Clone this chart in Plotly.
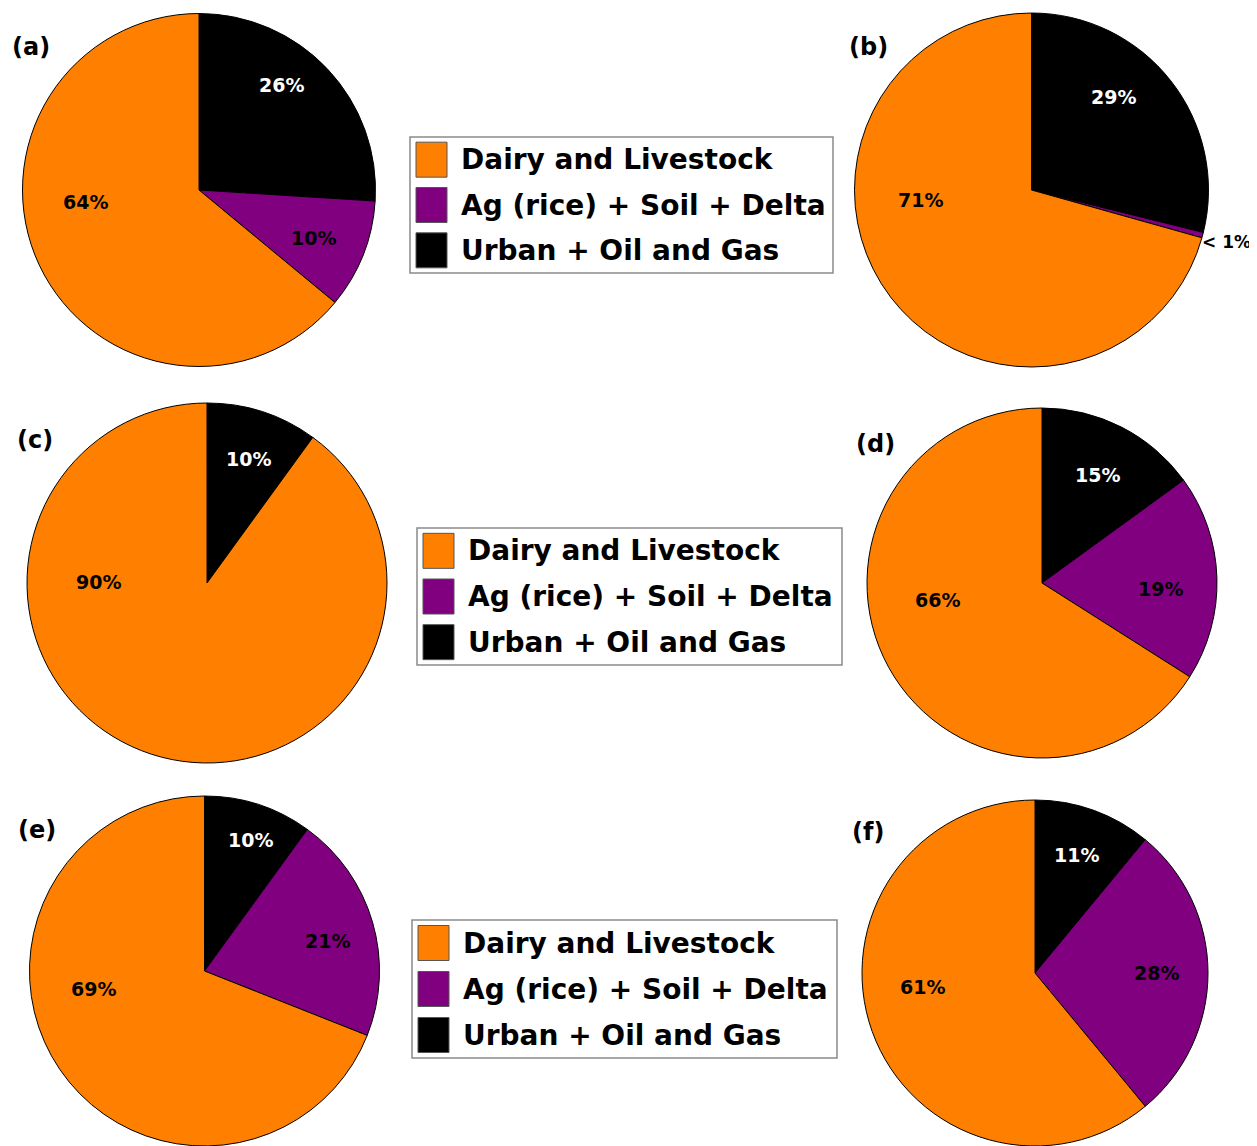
import plotly.graph_objects as go

# Screenshot window size; the page body adds an 8px margin, so the figure is drawn smaller
WIN_W, WIN_H = 1257, 1146
OFF = 8
W, H = WIN_W - OFF, WIN_H - OFF

categories = ["Urban + Oil and Gas", "Ag (rice) + Soil + Delta", "Dairy and Livestock"]
colors = ["#000000", "#800080", "#FF8000"]
legend_order = ["Dairy and Livestock", "Ag (rice) + Soil + Delta", "Urban + Oil and Gas"]

panel_names = ["(a)", "(b)", "(c)", "(d)", "(e)", "(f)"]
values_a = [26, 10, 64]
values_b = [29, 0.5, 71]
values_c = [10, 0, 90]
values_d = [15, 19, 66]
values_e = [10, 21, 69]
values_f = [11, 28, 61]
labels_a = ["26%", "10%", "64%"]
labels_b = ["29%", "< 1%", "71%"]
labels_c = ["10%", "", "90%"]
labels_d = ["15%", "19%", "66%"]
labels_e = ["10%", "21%", "69%"]
labels_f = ["11%", "28%", "61%"]

all_values = [values_a, values_b, values_c, values_d, values_e, values_f]
all_labels = [labels_a, labels_b, labels_c, labels_d, labels_e, labels_f]

# layout (pixels in the window): pie center x, center y, radius
geom = [(199, 190, 176.5), (1031.5, 190, 177), (207, 583, 180),
        (1042, 583, 175), (204.5, 971, 175), (1035, 973, 173)]
# label text positions (pixels in the window), per slice [Urban, Ag, Dairy]
label_pos = [
    [(281, 85), (313, 238), (85, 202)],
    [(1113, 97), (1226, 242), (920, 200)],
    [(248, 459), None, (99, 582)],
    [(1097, 475), (1160, 589), (938, 600)],
    [(250, 840), (327, 941), (93, 989)],
    [(1076, 855), (1156, 973), (922, 987)],
]
text_colors = ["#ffffff", "#000000", "#000000"]
panel_label_pos = [(31, 47), (868, 47), (35, 440), (875, 444), (37, 830), (868, 832)]
legend_boxes = [(410, 137, 833, 273), (417, 528, 842, 665), (412, 920, 837, 1058)]

FONT = "DejaVu Sans"

def px(x):
    return (x - OFF) / W

def py(y):
    return 1 - (y - OFF) / H

fig = go.Figure()
annotations = []
shapes = []
for i, (vals, labs) in enumerate(zip(all_values, all_labels)):
    cx, cy, r = geom[i]
    fig.add_trace(go.Pie(
        labels=categories, values=vals, textinfo="none",
        sort=False, direction="clockwise", rotation=0,
        marker=dict(colors=colors, line=dict(color="#000000", width=1)),
        domain=dict(x=[max(0, px(cx - r)), min(1, px(cx + r))],
                    y=[max(0, py(cy + r)), min(1, py(cy - r))]),
        showlegend=False, hoverinfo="label+percent",
    ))
    for k, t in enumerate(labs):
        if not t or label_pos[i][k] is None:
            continue
        lx, ly = label_pos[i][k]
        outside = t.startswith("<")
        annotations.append(dict(x=px(lx), y=py(ly), xref="paper", yref="paper",
                                text="<b>%s</b>" % t, showarrow=False,
                                font=dict(family=FONT, size=17 if outside else 19,
                                          color="#000000" if outside else text_colors[k]),
                                xanchor="center", yanchor="middle"))

for name, (lx, ly) in zip(panel_names, panel_label_pos):
    annotations.append(dict(x=px(lx), y=py(ly), xref="paper", yref="paper",
                            text="<b>%s</b>" % name, showarrow=False,
                            font=dict(family=FONT, size=24, color="#000000"),
                            xanchor="center", yanchor="middle"))

col_of = dict(zip(categories, colors))
for (x0, y0, x1, y1) in legend_boxes:
    shapes.append(dict(type="rect", xref="paper", yref="paper",
                       x0=px(x0), x1=px(x1), y0=py(y1), y1=py(y0),
                       line=dict(color="#8a8a8a", width=1.5), fillcolor="#ffffff"))
    rowh = (y1 - y0) / 3
    for k, cat in enumerate(legend_order):
        ry = y0 + rowh * (k + 0.5)
        shapes.append(dict(type="rect", xref="paper", yref="paper",
                           x0=px(x0 + 6), x1=px(x0 + 37), y0=py(ry + 17.5), y1=py(ry - 17.5),
                           line=dict(color="#555555", width=1), fillcolor=col_of[cat]))
        annotations.append(dict(x=px(x0 + 49), y=py(ry), xref="paper", yref="paper",
                                text="<b>%s</b>" % cat, showarrow=False,
                                font=dict(family=FONT, size=28, color="#000000"),
                                xanchor="left", yanchor="middle"))

fig.update_layout(width=W, height=H, margin=dict(l=0, r=0, t=0, b=0),
                  paper_bgcolor="#ffffff", plot_bgcolor="#ffffff",
                  shapes=shapes, annotations=annotations, showlegend=False)
fig.write_html("out.html")
